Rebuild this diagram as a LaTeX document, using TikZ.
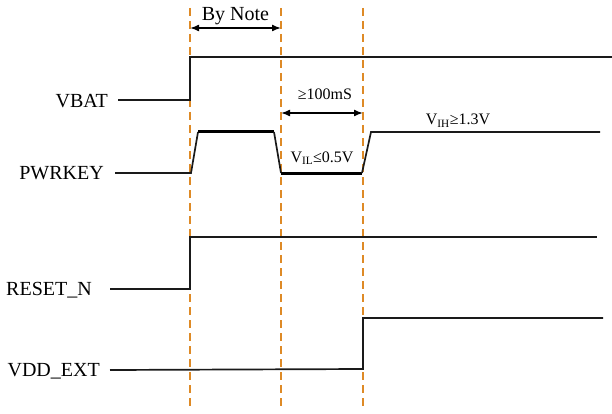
\documentclass[tikz,border=0pt]{standalone}
\usepackage{fontspec}
\setmainfont{Liberation Serif}
\usetikzlibrary{arrows.meta}
\definecolor{guide}{HTML}{DE8A26}
\definecolor{wave}{HTML}{1A1A1A}
\tikzset{
  siglabel/.style={anchor=base east, inner sep=0pt, font=\fontsize{20}{22}\selectfont},
  note/.style={anchor=base, inner sep=0pt, font=\fontsize{16}{18}\selectfont},
  bignote/.style={anchor=base, inner sep=0pt, font=\fontsize{20}{22}\selectfont},
  guideline/.style={draw=guide, line width=1.5pt, dash pattern=on 8pt off 5pt},
  wave/.style={draw=wave, line width=1.7pt, line join=miter},
  thickwave/.style={draw=black, line width=3pt},
  span/.style={draw=black, line width=1.5pt, {Latex[length=9pt,width=7pt]}-{Latex[length=9pt,width=7pt]}}
}
\begin{document}
\begin{tikzpicture}[x=1pt,y=-1pt]
\useasboundingbox (0,0) rectangle (612,414);
% guide lines
\foreach \gx/\nm in {190/ga,281/gb,363/gc}{
  \coordinate (\nm t) at (\gx,8);
  \coordinate (\nm b) at (\gx,410);
  \path[guideline] (\nm t) -- (\nm b);
}
% labels
\node[siglabel] (vbat) at (108,108) {VBAT};
\node[siglabel] (pwr) at (104,179) {PWRKEY};
\node[siglabel] (rst) at (92,295) {RESET\_N};
\node[siglabel] (vdd) at (100,376) {VDD\_EXT};
% VBAT
\path[wave] (118,100) -- (190,100) -- (190,57) -- (612,57);
% PWRKEY
\path[wave] (115,173) -- (191,173) -- (198,132);
\path[thickwave] (198,132) -- (274,132);
\path[wave] (274,132) -- (281,173);
\path[thickwave] (281,173) -- (362,173);
\path[wave] (362,173) -- (371,132) -- (600,132);
% RESET_N
\path[wave] (110,289) -- (190,289) -- (190,237) -- (597,237);
% VDD_EXT
\path[wave] (110,370) -- (363,369) -- (363,318) -- (603,318);
% annotations
\coordinate (a1) at (190,28);
\coordinate (a2) at (281,28);
\coordinate (b1) at (281,113);
\coordinate (b2) at (363,113);
\path[span] (a1) -- (a2);
\path[span] (b1) -- (b2);
\node[bignote] (bynote) at (235.5,21) {By Note};
\node[note] (t100) at (325,100) {≥100mS};
\node[note] (vil) at (322,162) {V\textsubscript{IL}≤0.5V};
\node[note] (vih) at (458,125) {V\textsubscript{IH}≥1.3V};
\end{tikzpicture}
\end{document}
